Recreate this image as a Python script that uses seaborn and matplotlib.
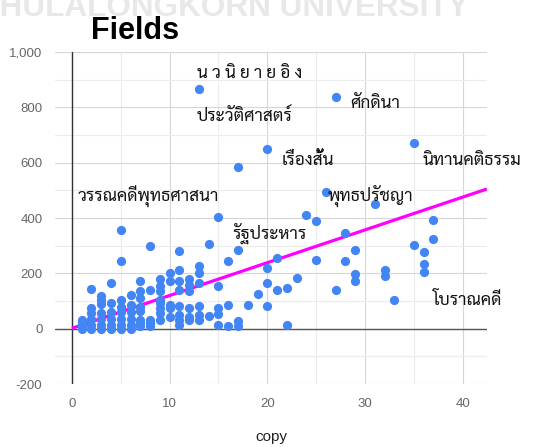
import pandas as pd
import matplotlib
matplotlib.use("Agg")
import matplotlib.pyplot as plt
from matplotlib.ticker import MultipleLocator, FuncFormatter
import seaborn as sns

# data: x = number of copies, y = value
copies = [
    1, 1, 1, 1,
    2, 2, 2, 2, 2, 2,
    3, 3, 3, 3, 3, 3, 3,
    4, 4, 4, 4, 4, 4,
    5, 5, 5, 5, 5, 5, 5, 5,
    6, 6, 6, 6, 6, 6,
    7, 7, 7, 7, 7, 7, 7, 7,
    8, 8, 8, 8, 8,
    9, 9, 9, 9, 9, 9, 9, 9,
    10, 10, 10, 10, 10,
    11, 11, 11, 11, 11, 11, 11, 11,
    12, 12, 12, 12, 12, 12,
    13, 13, 13, 13, 13, 13, 13,
    14, 14,
    15, 15, 15, 15, 15,
    16, 16, 16,
    17, 17, 17, 17,
    18, 19,
    20, 20, 20, 20,
    21, 21,
    22, 22,
    23, 24,
    25, 25,
    26,
    27, 27,
    28, 28,
    29, 29, 29,
    31,
    32, 32,
    33,
    35, 35,
    36, 36, 36,
    37, 37,
]
values = [
    0, 10, 20, 30,
    0, 15, 35, 55, 75, 143,
    0, 15, 35, 55, 90, 105, 117,
    0, 15, 35, 60, 93, 165,
    0, 15, 35, 60, 80, 105, 246, 356,
    0, 15, 35, 60, 87, 123,
    8, 20, 33, 63, 80, 111, 135, 174,
    8, 20, 33, 141, 298,
    33, 57, 75, 93, 105, 135, 153, 181,
    44, 75, 87, 171, 201,
    15, 30, 51, 81, 141, 171, 213, 280,
    30, 42, 75, 135, 159, 181,
    33, 51, 81, 165, 201, 225, 868,
    47, 306,
    12, 53, 75, 155, 404,
    8, 86, 243,
    8, 26, 283, 585,
    87, 125,
    81, 165, 219, 650,
    139, 256,
    13, 147,
    183, 412,
    250, 390,
    494,
    139, 836,
    243, 346,
    174, 199, 286,
    452,
    190, 212,
    105,
    304, 672,
    205, 234, 276,
    324, 392,
]

# trendline
trend_slope = 11.85
trend_intercept = 1.4

# annotation texts and where they sit (data coords, left / baseline)
label_texts = [
    "น ว นิ ย า ย อิ ง",
    "ประวัติศาสตร์",
    "ศักดินา",
    "เรื่องสั้น",
    "นิทานคติธรรม",
    "วรรณคดีพุทธศาสนา",
    "พุทธปรัชญา",
    "รัฐประหาร",
    "โบราณคดี",
]
label_x = [12.8, 12.8, 28.45, 21.5, 35.9, 0.6, 26.2, 16.4, 36.95]
label_y = [907, 750, 798, 593, 593, 460, 460, 322, 87]

df = pd.DataFrame({"copy": copies, "value": values})

sns.set_style("white")
plt.rcParams["font.family"] = ["Liberation Sans", "DejaVu Sans"]
thai_fonts = ["Sarabun", "Noto Sans Thai Looped", "Noto Sans Thai", "DejaVu Sans"]

fig = plt.figure(figsize=(5.44, 4.47), dpi=100)
ax = fig.add_axes([0.101, 0.1409, 0.794, 0.7428])

# watermark strip at the very top (from the scanned page)
fig.text(-0.0417, 0.964, "CHULALONGKORN UNIVERSITY", fontsize=22.7,
         fontweight="bold", color="#e8e8e8", ha="left", va="baseline", zorder=0)

ax.set_xlim(-1.74, 42.48)
ax.set_ylim(-200, 1000)

ax.xaxis.set_major_locator(MultipleLocator(10))
ax.xaxis.set_minor_locator(MultipleLocator(5))
ax.yaxis.set_major_locator(MultipleLocator(200))
ax.yaxis.set_minor_locator(MultipleLocator(100))
ax.yaxis.set_major_formatter(FuncFormatter(lambda v, p: f"{v:,.0f}"))

ax.grid(which="major", color="#d6d6d6", linewidth=0.8, zorder=0)
ax.grid(which="minor", color="#ececec", linewidth=0.8, zorder=0)
for s in ax.spines.values():
    s.set_visible(False)
ax.tick_params(which="both", length=0, labelsize=9.5, labelcolor="#666666")
ax.tick_params(axis="y", pad=9)
ax.tick_params(axis="x", pad=10)

ax.axvline(0, color="#333333", linewidth=1.0, zorder=1)
ax.axhline(0, color="#555555", linewidth=1.0, zorder=1)

# trendline, from x=0 to the right edge
x_end = ax.get_xlim()[1]
ax.plot([0, x_end], [trend_intercept, trend_intercept + trend_slope * x_end],
        color="#ff00ff", linewidth=2.3, solid_capstyle="butt", zorder=2)

sns.scatterplot(data=df, x="copy", y="value", ax=ax, color="#4285f4",
                s=44, linewidth=0, alpha=1, zorder=3)

for t, lx, ly in zip(label_texts, label_x, label_y):
    ax.text(lx, ly, t, family=thai_fonts, fontsize=12.4, color="#111111",
            ha="left", va="baseline", zorder=4, clip_on=False)

ax.set_ylabel("")
ax.set_xlabel("copy", fontsize=11, color="#222222")
ax.xaxis.set_label_coords(0.5, -0.139)

fig.text(0.1665, 0.9128, "Fields", fontsize=22, fontweight="bold",
         color="black", ha="left", va="baseline")

fig.savefig("out.png", dpi=100)
